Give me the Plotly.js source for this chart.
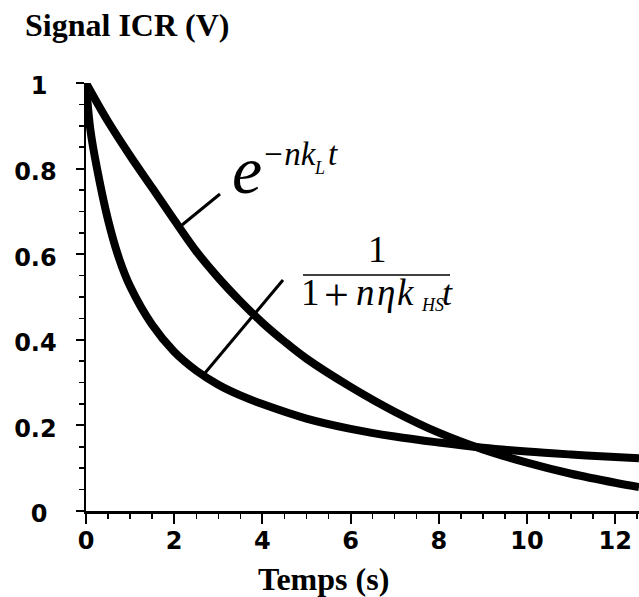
<!DOCTYPE html>
<html>
<head>
<meta charset="utf-8">
<script src="https://cdn.plot.ly/plotly-3.0.1.min.js"></script>
<style>html,body{margin:0;padding:0;background:#fff}#chart{width:639px;height:597px}</style>
</head>
<body>
<div id="chart"></div>
<script>
// ---- data ----
const tExp = [0, 0.5, 1, 1.5, 2, 2.5, 3, 3.5, 4, 4.5, 5, 6, 7, 8, 9, 10, 11, 12, 12.54];
const yExp = [1.0, 0.91, 0.83, 0.755, 0.68, 0.607, 0.545, 0.49, 0.44, 0.396, 0.356, 0.29, 0.232, 0.183, 0.144, 0.113, 0.087, 0.066, 0.056];

const tHyp = [0, 0.1, 0.25, 0.5, 0.75, 1.0, 1.5, 2.0, 2.5, 3.0, 3.5, 4.0, 5.0, 6.0, 7.0, 8.0, 9.0, 10.0, 11.0, 12.0, 12.54];
const yHyp = [1.0, 0.89, 0.80, 0.68, 0.59, 0.525, 0.435, 0.372, 0.328, 0.295, 0.27, 0.25, 0.216, 0.192, 0.174, 0.16, 0.148, 0.139, 0.132, 0.126, 0.123];

const xTickVals = [0, 2, 4, 6, 8, 10, 12];
const xTickText = ['0', '2', '4', '6', '8', '10', '12'];
const yTickVals = [0, 0.2, 0.4, 0.6, 0.8, 1];
const yTickText = ['0\u2008', '0.2', '0.4', '0.6', '0.8', '1\u2008'];

const yTitle = 'Signal ICR (V)';
const xTitle = 'Temps (s)';

// ---- layout helpers (pixel -> paper) ----
const W = 639, H = 597;
const L = 86, R = 639, T = 83, B = 511;
const px = x => (x - L) / (R - L);
const py = y => (B - y) / (B - T);
const SERIF = 'Liberation Serif, Times New Roman, serif';

function ann(text, x, baseline, size, xanchor) {
  return {
    xref: 'paper', yref: 'paper',
    x: px(x), y: py(baseline - 0.3375 * size),
    xanchor: xanchor, yanchor: 'middle',
    showarrow: false, borderpad: 0,
    text: text,
    font: {family: SERIF, size: size, color: '#000'}
  };
}
function seg(x0, y0, x1, y1, w) {
  return {type: 'line', xref: 'paper', yref: 'paper',
    x0: px(x0), y0: py(y0), x1: px(x1), y1: py(y1),
    line: {color: '#000', width: w}};
}

const lineStyle = {color: '#000', width: 8, shape: 'spline', smoothing: 1};

const traces = [
  {x: tExp, y: yExp, mode: 'lines', line: lineStyle, cliponaxis: false, name: 'exp', hoverinfo: 'skip'},
  {x: tHyp, y: yHyp, mode: 'lines', line: lineStyle, cliponaxis: false, name: 'hyp', hoverinfo: 'skip'}
];

const tickFont = {family: 'DejaVu Sans, sans-serif', size: 24, color: '#000', weight: 'bold'};

const layout = {
  width: W, height: H,
  margin: {l: L, r: W - R, t: T, b: H - B, pad: 0},
  paper_bgcolor: '#fff', plot_bgcolor: '#fff',
  showlegend: false,
  title: {
    text: '<b>' + yTitle + '</b>',
    font: {family: SERIF, size: 32, color: '#000'},
    xref: 'container', yref: 'container',
    x: 25 / W, xanchor: 'left',
    y: 1 - (36 - 0.3375 * 32) / H, yanchor: 'middle'
  },
  xaxis: {
    range: [0, 12.54],
    showgrid: false, zeroline: false,
    showline: true, linecolor: '#000', linewidth: 2.5,
    ticks: 'outside', ticklen: 10, tickwidth: 2, tickcolor: '#000',
    tickvals: xTickVals, ticktext: xTickText,
    tickfont: tickFont,
    ticklabelstandoff: -3,
    minor: {dtick: 0.5, ticks: 'outside', ticklen: 5, tickwidth: 1.5, tickcolor: '#000', showgrid: false},
    fixedrange: true
  },
  yaxis: {
    range: [0, 1],
    showgrid: false, zeroline: false,
    showline: true, linecolor: '#000', linewidth: 2.5,
    ticks: 'outside', ticklen: 8, tickwidth: 2, tickcolor: '#000',
    tickvals: yTickVals, ticktext: yTickText,
    tickfont: tickFont,
    ticklabelstandoff: 14,
    ticklabelshift: 3,
    minor: {dtick: 0.05, ticks: 'outside', ticklen: 5, tickwidth: 1.5, tickcolor: '#000', showgrid: false},
    fixedrange: true
  },
  annotations: [
    ann('<b>' + xTitle + '</b>', 323, 590, 32, 'center'),
    // e^{-n k_L t}
    ann('<i>e</i>', 231, 193, 68, 'left'),
    ann('<i>\u2212nk</i>', 261, 165, 33, 'left'),
    ann('<i>L</i>', 313, 174, 18, 'left'),
    ann('<i>t</i>', 327, 165, 33, 'left'),
    // 1 / (1 + n eta k_HS t)
    ann('1', 377, 262, 37, 'center'),
    ann('1', 300, 305, 37, 'left'),
    ann('+', 336, 310, 44, 'center'),
    ann('<i>n</i>', 355, 305, 37, 'left'),
    ann('<i>\u03b7</i>', 376, 305, 37, 'left'),
    ann('<i>k</i>', 396, 305, 37, 'left'),
    ann('<i>HS</i>', 420, 311, 18, 'left'),
    ann('<i>t</i>', 441, 305, 36, 'left')
  ],
  shapes: [
    seg(182, 225, 220, 194, 3),
    seg(205, 373, 283, 280, 3),
    seg(303, 275, 450, 275, 1.5)
  ]
};

Plotly.newPlot('chart', traces, layout, {staticPlot: true, displayModeBar: false});
</script>
</body>
</html>
